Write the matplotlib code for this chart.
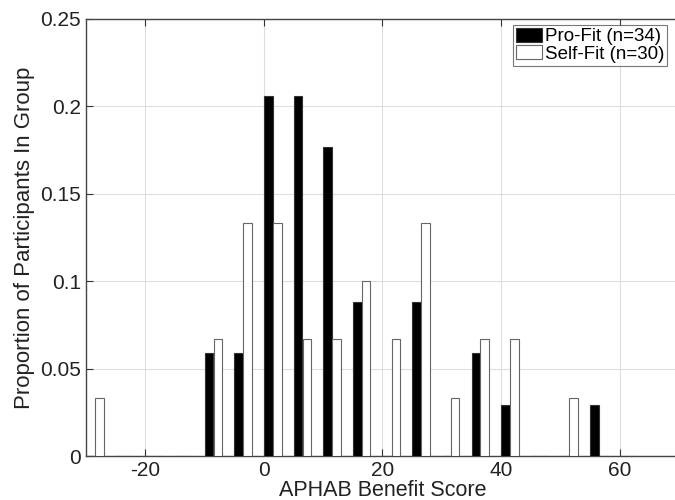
import numpy as np
import matplotlib.pyplot as plt

plt.rcParams['font.family'] = ['Liberation Sans', 'DejaVu Sans']
plt.rcParams['axes.unicode_minus'] = False

# bin centres of the APHAB benefit score histogram
bin_centers = [-28.5, -23.5, -18.5, -13.5, -8.5, -3.5, 1.5, 6.5, 11.5, 16.5,
               21.5, 26.5, 31.5, 36.5, 41.5, 46.5, 51.5, 56.5, 61.5]
# participant counts per bin
pro_counts = [0, 0, 0, 0, 2, 2, 7, 7, 6, 3, 0, 3, 0, 2, 1, 0, 0, 1, 0]
self_counts = [1, 0, 0, 0, 2, 4, 4, 2, 2, 3, 2, 4, 1, 2, 2, 0, 1, 0, 0]
pro_n = 34
self_n = 30

x = np.array(bin_centers)
pro_prop = np.array(pro_counts) / pro_n
self_prop = np.array(self_counts) / self_n

fig = plt.figure(figsize=(6.75, 5), dpi=100)
ax = fig.add_axes([0.1274, 0.088, 0.8785, 0.8746])

w = 1.45
ax.bar(x - 0.75, pro_prop, width=w, color='black', edgecolor='#333333',
       linewidth=0.8, label='Pro-Fit (n=34)', zorder=3)
ax.bar(x + 0.75, self_prop, width=w, color='white', edgecolor='#666666',
       linewidth=0.8, label='Self-Fit (n=30)', zorder=3)

ax.set_xlim(-30, 70)
ax.set_ylim(0, 0.25)
ax.set_xticks([-20, 0, 20, 40, 60])
ax.set_yticks([0, 0.05, 0.1, 0.15, 0.2, 0.25])
ax.set_yticklabels(['0', '0.05', '0.1', '0.15', '0.2', '0.25'])
ax.grid(True, color='#dddddd', linewidth=0.8, zorder=0)
ax.tick_params(direction='in', length=5, top=True, right=False,
               labelsize=15, colors='#333333', labelcolor='#222222')
for s in ax.spines.values():
    s.set_color('#444444')
    s.set_linewidth(1.0)
ax.spines['right'].set_visible(False)

ax.set_xlabel('APHAB Benefit Score', fontsize=15.5, color='#222222', labelpad=0)
ax.set_ylabel('Proportion of Participants In Group', fontsize=16,
              color='#222222', labelpad=4)

leg = ax.legend(loc='upper left', bbox_to_anchor=(0.72, 0.985), fontsize=13.5,
                frameon=True, fancybox=False, borderpad=0.15,
                handlelength=1.4, handleheight=0.75, handletextpad=0.15,
                labelspacing=0.0, borderaxespad=0)
leg.get_frame().set_edgecolor('#555555')
leg.get_frame().set_linewidth(0.8)

fig.savefig('out.png', dpi=100)
